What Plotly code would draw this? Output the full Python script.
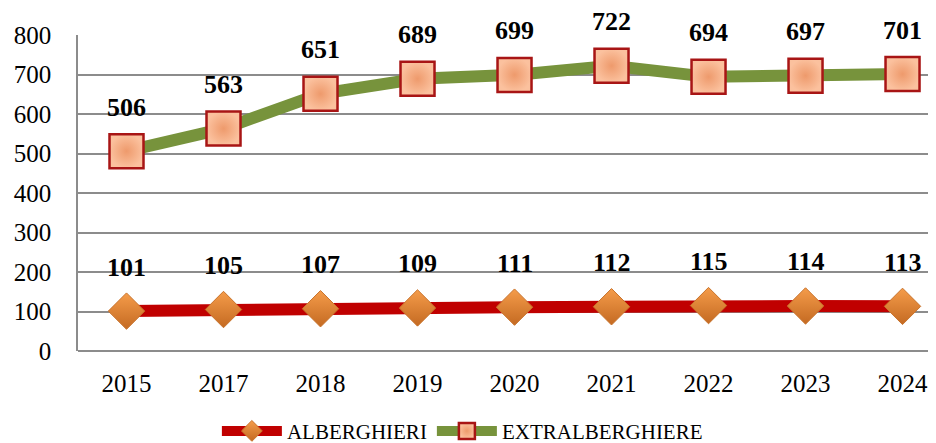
import plotly.graph_objects as go

years = ["2015", "2017", "2018", "2019", "2020", "2021", "2022", "2023", "2024"]
alberghieri = [101, 105, 107, 109, 111, 112, 115, 114, 113]
extralberghiere = [506, 563, 651, 689, 699, 722, 694, 697, 701]

serif = "Liberation Serif, Times New Roman, serif"

fig = go.Figure()

fig.add_trace(go.Scatter(
    x=years, y=alberghieri, name="ALBERGHIERI",
    mode="lines+markers",
    line={"color": "#C00000", "width": 12},
    marker={"symbol": "diamond", "size": 28, "color": "#F59C4A",
            "gradient": {"type": "vertical", "color": "#C46A22"},
            "line": {"color": "#C8732C", "width": 1}},
))

fig.add_trace(go.Scatter(
    x=years, y=extralberghiere, name="EXTRALBERGHIERE",
    mode="lines+markers",
    line={"color": "#77933C", "width": 12},
    marker={"symbol": "square", "size": 34, "color": "#FBC19E",
            "gradient": {"type": "radial", "color": "#EE9A6C"},
            "line": {"color": "#A81515", "width": 2.5}},
))

# category axis: place labels by index so "2015" is not read as a number
for series in (alberghieri, extralberghiere):
    for i, v in enumerate(series):
        fig.add_annotation(
            x=i, y=v, text=str(v), showarrow=False, yshift=44,
            font={"family": serif, "size": 26, "color": "black", "weight": "bold"},
        )

# the page body has an 8px margin, so the figure is sized to fit the window
fig.update_layout(
    width=928, height=435,
    margin={"l": 70, "r": 0, "t": 27, "b": 92},
    paper_bgcolor="white", plot_bgcolor="white",
    font={"family": serif, "size": 25, "color": "black"},
    showlegend=True,
    legend={"orientation": "h", "xanchor": "center", "x": 0.448,
            "yref": "container", "yanchor": "middle", "y": 0.027,
            "font": {"size": 21}, "itemwidth": 60},
)

fig.update_xaxes(
    type="category", range=[-0.5, 8.345], automargin=False,
    showgrid=False, showline=False, ticks="",
    tickfont={"size": 25}, ticklabelstandoff=15,
)
fig.update_yaxes(
    range=[0, 800], dtick=100, automargin=False,
    showgrid=True, gridcolor="#8C8C8C", gridwidth=1.5,
    showline=True, linecolor="#8C8C8C", linewidth=1.5,
    zeroline=True, zerolinecolor="#8C8C8C", zerolinewidth=1.5,
    ticks="", tickfont={"size": 25}, ticklabelstandoff=20,
)

fig.write_html("out.html")
